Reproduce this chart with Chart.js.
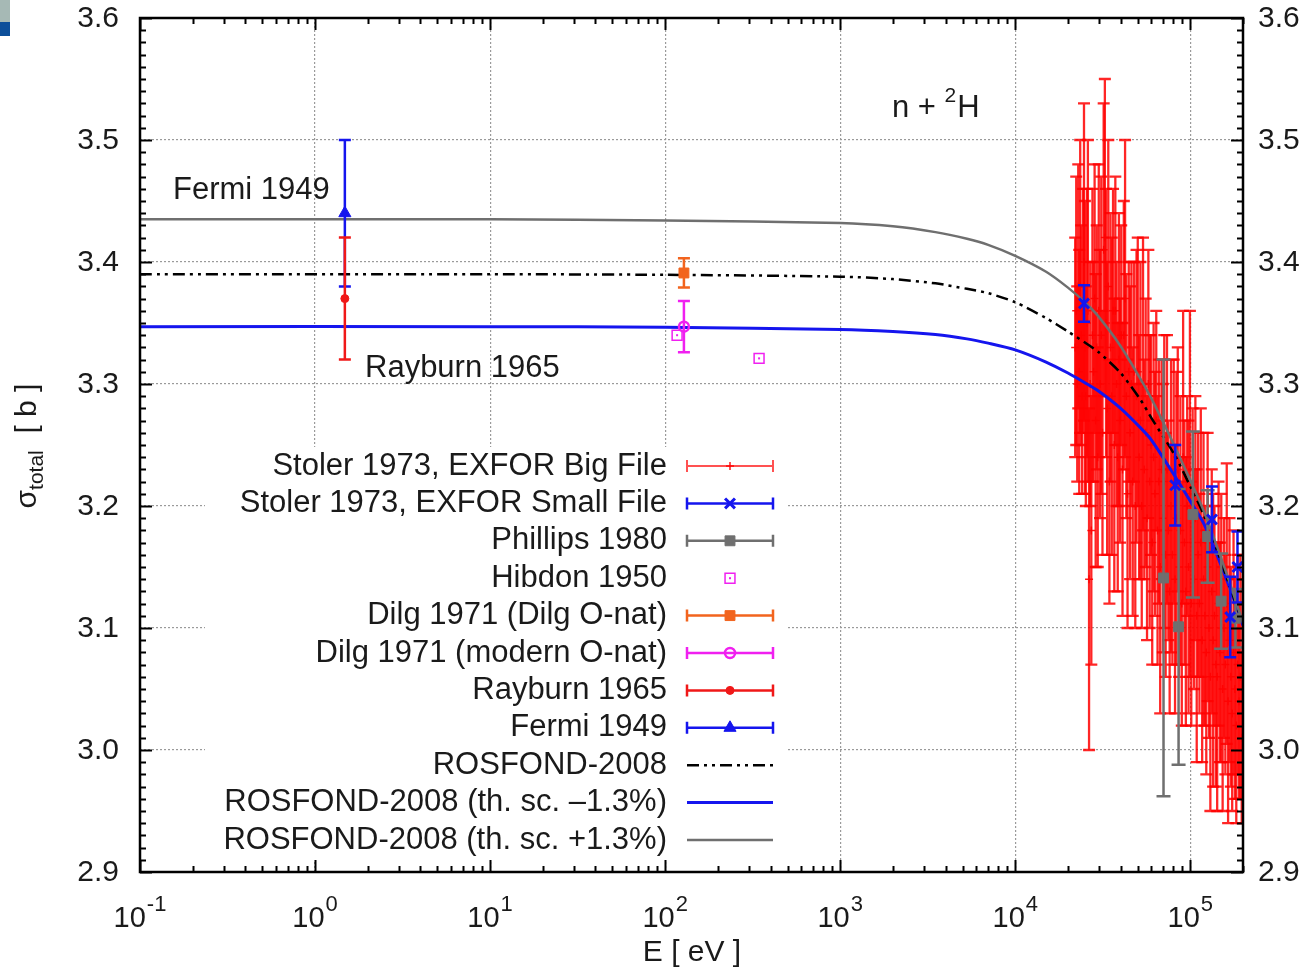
<!DOCTYPE html>
<html>
<head>
<meta charset="utf-8">
<title>n + 2H total cross section</title>
<script src="https://cdn.jsdelivr.net/npm/chart.js@4/dist/chart.umd.min.js"></script>
<style>
  html, body { margin: 0; padding: 0; background: #fff; }
  #wrap { position: relative; width: 1309px; height: 969px; }
  #corner1 { position: absolute; left: 0; top: 0; width: 10px; height: 22px; background: #a6b9b5; }
  #corner2 { position: absolute; left: 0; top: 22px; width: 10px; height: 14px; background: #0d4f9a; }
</style>
</head>
<body>
<div id="wrap">
  <canvas id="chart" width="1309" height="969"></canvas>
  <div id="corner1"></div>
  <div id="corner2"></div>
</div>
<script>
// ---- axis ticks ----
const xTicks = [0.1, 1, 10, 100, 1000, 10000, 100000];
const xTickExp = ['-1', '0', '1', '2', '3', '4', '5'];
const yTicks = [2.9, 3.0, 3.1, 3.2, 3.3, 3.4, 3.5, 3.6];
const yTickLabels = ['2.9', '3.0', '3.1', '3.2', '3.3', '3.4', '3.5', '3.6'];

// ---- evaluated curves (E in eV, sigma in b) ----
const curveE      = [0.1, 10, 100, 1000, 2000, 3500, 5300, 7000, 10000, 15000, 20000, 25000, 30000, 40000, 52000, 60000, 82000, 100000, 120000, 160000, 200000];
const rosfond     = [3.390, 3.390, 3.3895, 3.388, 3.386, 3.3825, 3.378, 3.3745, 3.367, 3.354, 3.343, 3.334, 3.326, 3.309, 3.287, 3.272, 3.241, 3.216, 3.192, 3.143, 3.103];
const rosfondLow  = [3.347, 3.347, 3.3465, 3.3447, 3.343, 3.3405, 3.337, 3.3335, 3.328, 3.318, 3.309, 3.301, 3.294, 3.280, 3.264, 3.254, 3.224, 3.204, 3.185, 3.141, 3.102];
const rosfondHigh = [3.435, 3.435, 3.434, 3.432, 3.4293, 3.4245, 3.419, 3.414, 3.405, 3.392, 3.379, 3.367, 3.355, 3.331, 3.304, 3.288, 3.248, 3.221, 3.195, 3.146, 3.104];

// ---- Stoler 1973, EXFOR big file ----
const stolerBigE = [
  22000, 22300, 22600, 22900, 23200, 23500, 23800, 24100, 24400, 24700, 25000, 25300, 25700, 26000, 26400, 26800, 27200, 27600, 28000, 28400, 28800, 29200, 29600, 30000,
  30500, 31000, 31500, 32000, 32500, 33000, 33500, 34000, 34500, 35000, 35600, 36200, 36800, 37300, 37900, 38500, 39100, 39700, 40300, 41000, 41700, 42400, 43100, 43800, 44500,
  45300, 46100, 46900, 47700, 48500, 49300, 50100, 51000, 51900, 52800, 53700, 54600, 55600, 56600, 57600, 58600, 59600, 60600, 61700, 62800, 63900, 65000, 66100, 67300, 68500, 69700,
  71000, 72300, 73600, 74900, 76200, 77600, 79000, 80400, 81800, 83300, 84800, 86300, 87800, 89400, 91000, 92600, 94300, 96000, 97700, 99500, 101300, 103100, 105000, 106900, 108800,
  110800, 112800, 114800, 116900, 119000, 121200, 123400, 125600, 127900, 130200, 132600, 135000, 137400, 139900, 142400, 145000, 147600, 150300, 153000, 155800,
  158600, 161500, 164400, 167400, 170400, 173500, 176600, 179800, 183100, 186400, 189800, 193200, 196700, 199000
];
const stolerBigS = [
  3.33, 3.36, 3.30, 3.38, 3.31, 3.38, 3.34, 3.29, 3.36, 3.40, 3.33, 3.29, 3.35, 3.36, 3.14, 3.30, 3.18, 3.34, 3.31, 3.37, 3.27, 3.33, 3.24, 3.36,
  3.30, 3.34, 3.26, 3.41, 3.42, 3.35, 3.28, 3.38, 3.22, 3.33, 3.29, 3.36, 3.25, 3.36, 3.30, 3.24, 3.32, 3.27, 3.34, 3.23, 3.34, 3.37, 3.29, 3.21, 3.31,
  3.26, 3.30, 3.22, 3.31, 3.20, 3.29, 3.31, 3.24, 3.27, 3.20, 3.30, 3.23, 3.26, 3.19, 3.30, 3.22, 3.25, 3.17, 3.24, 3.21, 3.27, 3.18, 3.22, 3.15, 3.23, 3.19,
  3.22, 3.16, 3.23, 3.18, 3.13, 3.20, 3.16, 3.22, 3.14, 3.19, 3.23, 3.15, 3.18, 3.12, 3.24, 3.17, 3.13, 3.20, 3.15, 3.21, 3.12, 3.17, 3.14, 3.19, 3.11,
  3.16, 3.12, 3.17, 3.09, 3.14, 3.11, 3.08, 3.15, 3.10, 3.06, 3.13, 3.09, 3.11, 3.07, 3.06, 3.12, 3.08, 3.10, 3.05, 3.10,
  3.07, 3.12, 3.04, 3.09, 3.06, 3.03, 3.08, 3.05, 3.02, 3.07, 3.04, 3.06, 3.01, 3.05
];
const stolerBigErr = [
  0.09, 0.11, 0.08, 0.10, 0.10, 0.12, 0.09, 0.08, 0.10, 0.13, 0.12, 0.09, 0.11, 0.14, 0.14, 0.10, 0.11, 0.12, 0.09, 0.11, 0.12, 0.10, 0.09, 0.12,
  0.11, 0.13, 0.10, 0.12, 0.13, 0.11, 0.12, 0.12, 0.10, 0.11, 0.13, 0.10, 0.12, 0.11, 0.10, 0.11, 0.12, 0.10, 0.09, 0.12, 0.11, 0.13, 0.10, 0.11, 0.09,
  0.12, 0.10, 0.11, 0.09, 0.10, 0.12, 0.11, 0.10, 0.13, 0.10, 0.12, 0.09, 0.11, 0.10, 0.11, 0.12, 0.09, 0.10, 0.11, 0.10, 0.09, 0.11, 0.10, 0.12, 0.09, 0.11,
  0.12, 0.10, 0.11, 0.09, 0.10, 0.12, 0.09, 0.10, 0.11, 0.12, 0.10, 0.09, 0.11, 0.10, 0.12, 0.10, 0.11, 0.09, 0.12, 0.15, 0.10, 0.11, 0.09, 0.10, 0.12,
  0.10, 0.09, 0.11, 0.10, 0.12, 0.09, 0.10, 0.11, 0.09, 0.11, 0.10, 0.12, 0.09, 0.10, 0.11, 0.10, 0.09, 0.11, 0.10, 0.09,
  0.09, 0.115, 0.10, 0.10, 0.09, 0.08, 0.10, 0.09, 0.08, 0.09, 0.08, 0.10, 0.07, 0.09
];

// ---- Stoler 1973, EXFOR small file ----
const stolerSmallE = [24700, 82000, 133000, 169000, 186000];
const stolerSmallS = [3.366, 3.217, 3.189, 3.109, 3.150];
const stolerSmallErr = [0.015, 0.033, 0.027, 0.033, 0.029];

// ---- Phillips 1980 ----
const phillipsE = [70300, 85700, 103500, 125600, 150000, 181000];
const phillipsS = [3.141, 3.101, 3.193, 3.175, 3.122, 3.108];
const phillipsErr = [0.179, 0.113, 0.068, 0.038, 0.039, 0.024];

// ---- Hibdon 1950 ----
const hibdonE = [117, 344];
const hibdonS = [3.340, 3.321];

// ---- Dilg 1971 ----
const dilgOE = [128], dilgOS = [3.391], dilgOErr = [0.012];
const dilgModE = [128], dilgModS = [3.347], dilgModErr = [0.021];

// ---- Rayburn 1965, Fermi 1949 ----
const rayburnE = [1.48], rayburnS = [3.37], rayburnErr = [0.05];
const fermiE = [1.48], fermiS = [3.44], fermiErr = [0.06];

const FONT = '"Liberation Sans", Arial, Helvetica, sans-serif';
const font = px => px + 'px ' + FONT;
const pts = (xs, ys) => xs.map((x, i) => ({ x: x, y: ys[i] }));

// error bars, drawn right after each dataset so the layering follows the dataset order
const errorBars = {
  id: 'errorBars',
  afterDatasetDraw(chart, args) {
    const ds = chart.data.datasets[args.index];
    const { ctx, chartArea: a, scales: { x, y } } = chart;
    ctx.save();
    ctx.beginPath();
    ctx.rect(a.left, a.top, a.right - a.left, a.bottom - a.top);
    ctx.clip();
    if (ds.errors) {
      ctx.strokeStyle = ds.errColor;
      ctx.lineWidth = ds.errWidth;
      const cap = ds.capHalf;
      ds.data.forEach((p, i) => {
        const px = x.getPixelForValue(p.x);
        const top = y.getPixelForValue(p.y + ds.errors[i]);
        const bot = y.getPixelForValue(p.y - ds.errors[i]);
        ctx.beginPath();
        ctx.moveTo(px, top); ctx.lineTo(px, bot);
        ctx.moveTo(px - cap, top); ctx.lineTo(px + cap, top);
        ctx.moveTo(px - cap, bot); ctx.lineTo(px + cap, bot);
        ctx.stroke();
      });
    }
    if (ds.centerDot) {
      ctx.fillStyle = ds.pointBorderColor;
      ds.data.forEach(p => {
        ctx.fillRect(x.getPixelForValue(p.x) - 1, y.getPixelForValue(p.y) - 1, 2, 2);
      });
    }
    ctx.restore();
  }
};

function drawMarker(ctx, ds, px, py) {
  if (!ds.pointRadius) return;
  ctx.save();
  ctx.fillStyle = ds.pointBackgroundColor;
  ctx.strokeStyle = ds.pointBorderColor;
  ctx.lineWidth = ds.pointBorderWidth;
  Chart.helpers.drawPoint(ctx, {
    pointStyle: ds.pointStyle, radius: ds.pointRadius, borderWidth: ds.pointBorderWidth, rotation: 0
  }, px, py);
  if (ds.centerDot) {
    ctx.fillStyle = ds.pointBorderColor;
    ctx.fillRect(px - 1, py - 1, 2, 2);
  }
  ctx.restore();
}

const decor = {
  id: 'decor',
  beforeDatasetsDraw(chart) {
    // opaque key background
    const ctx = chart.ctx;
    ctx.save();
    ctx.fillStyle = '#fff';
    ctx.fillRect(205, 447, 583, 413);
    ctx.restore();
  },
  afterDraw(chart) {
    const { ctx, chartArea: a, scales: { x, y } } = chart;
    ctx.save();

    // frame
    ctx.strokeStyle = '#000';
    ctx.lineWidth = 2.5;
    ctx.strokeRect(a.left, a.top, a.right - a.left, a.bottom - a.top);

    // tick marks on all four sides
    ctx.lineWidth = 2;
    ctx.beginPath();
    for (let k = 0; k <= 70; k++) {
      const py = Math.round(y.getPixelForValue(2.9 + k * 0.01)) + 0.5;
      const len = k % 10 === 0 ? 12 : 6;
      ctx.moveTo(a.left, py); ctx.lineTo(a.left + len, py);
      ctx.moveTo(a.right, py); ctx.lineTo(a.right - len, py);
    }
    xTicks.forEach(d => {
      for (let m = 1; m <= 9; m++) {
        const v = d * m;
        if (v > x.max * 1.0001) break;
        const px = Math.round(x.getPixelForValue(v)) + 0.5;
        const len = m === 1 ? 12 : 6;
        ctx.moveTo(px, a.bottom); ctx.lineTo(px, a.bottom - len);
        ctx.moveTo(px, a.top); ctx.lineTo(px, a.top + len);
      }
    });
    ctx.stroke();

    // y tick labels, both sides
    ctx.fillStyle = '#1a1a1a';
    ctx.font = font(30);
    ctx.textBaseline = 'middle';
    yTicks.forEach((v, i) => {
      const py = y.getPixelForValue(v) + 1;
      ctx.textAlign = 'right';
      ctx.fillText(yTickLabels[i], a.left - 21, py);
      ctx.textAlign = 'left';
      ctx.fillText(yTickLabels[i], a.right + 15, py);
    });

    // x tick labels 10^n
    ctx.textBaseline = 'alphabetic';
    ctx.textAlign = 'left';
    xTicks.forEach((v, i) => {
      const px = x.getPixelForValue(v);
      ctx.font = font(29);
      const wBase = ctx.measureText('10').width;
      ctx.font = font(22);
      const wExp = ctx.measureText(xTickExp[i]).width;
      const x0 = px - (wBase + wExp + 1) / 2;
      ctx.font = font(29);
      ctx.fillText('10', x0, 927);
      ctx.font = font(22);
      ctx.fillText(xTickExp[i], x0 + wBase + 1, 911);
    });

    // axis titles
    ctx.font = font(30);
    ctx.textAlign = 'center';
    ctx.fillText('E [ eV ]', 692, 961);

    ctx.save();
    ctx.translate(36, 446);
    ctx.rotate(-Math.PI / 2);
    ctx.textAlign = 'left';
    ctx.font = font(30);
    const wSig = ctx.measureText('σ').width;
    ctx.font = font(21);
    const wSub = ctx.measureText('total').width;
    ctx.font = font(30);
    const wRest = ctx.measureText('  [ b ]').width;
    let tx = -(wSig + wSub + wRest) / 2;
    ctx.fillText('σ', tx, 0); tx += wSig;
    ctx.font = font(21);
    ctx.fillText('total', tx, 7); tx += wSub;
    ctx.font = font(30);
    ctx.fillText('  [ b ]', tx, 0);
    ctx.restore();

    // annotations
    ctx.textAlign = 'left';
    ctx.textBaseline = 'middle';
    ctx.font = font(31);
    ctx.fillText('Fermi 1949', 173, 190);
    ctx.fillText('Rayburn 1965', 365, 368);
    ctx.fillText('n + ', 892, 108);
    let nx = 892 + ctx.measureText('n + ').width;
    ctx.font = font(21);
    ctx.fillText('2', nx, 96);
    nx += ctx.measureText('2').width + 1;
    ctx.font = font(31);
    ctx.fillText('H', nx, 108);

    // key
    const x0 = 687, x1 = 773, xm = 730;
    chart.data.datasets.forEach((ds, i) => {
      const ry = 466 + i * 37.4;
      ctx.fillStyle = '#1a1a1a';
      ctx.font = font(31);
      ctx.textAlign = 'right';
      ctx.fillText(ds.label, 667, ry);
      ctx.save();
      if (ds.showLine) {
        ctx.strokeStyle = ds.borderColor;
        ctx.lineWidth = ds.borderWidth;
        ctx.setLineDash(ds.borderDash || []);
        ctx.beginPath(); ctx.moveTo(x0, ry); ctx.lineTo(x1, ry); ctx.stroke();
      } else if (ds.errors) {
        ctx.strokeStyle = ds.legendColor || ds.errColor;
        ctx.lineWidth = ds.legendWidth || Math.max(ds.errWidth, 2.5);
        ctx.beginPath();
        ctx.moveTo(x0, ry); ctx.lineTo(x1, ry);
        ctx.moveTo(x0, ry - 6); ctx.lineTo(x0, ry + 6);
        ctx.moveTo(x1, ry - 6); ctx.lineTo(x1, ry + 6);
        ctx.stroke();
      }
      ctx.restore();
      if (!ds.showLine) drawMarker(ctx, ds, xm, ry);
    });

    ctx.restore();
  }
};

const datasets = [
  {
    label: 'Stoler 1973, EXFOR Big File', data: pts(stolerBigE, stolerBigS), errors: stolerBigErr,
    errColor: 'rgba(255,0,0,0.85)', legendColor: 'rgba(255,50,50,0.85)', legendWidth: 2, errWidth: 2.3, capHalf: 6,
    pointStyle: 'cross', pointRadius: 4, pointBorderWidth: 1.5,
    pointBorderColor: 'rgba(255,0,0,0.9)', pointBackgroundColor: 'rgba(255,0,0,0.9)', showLine: false, order: 20
  },
  {
    label: 'Stoler 1973, EXFOR Small File', data: pts(stolerSmallE, stolerSmallS), errors: stolerSmallErr,
    errColor: '#1515ee', errWidth: 2.5, capHalf: 6,
    pointStyle: 'crossRot', pointRadius: 7, pointBorderWidth: 3,
    pointBorderColor: '#1515ee', pointBackgroundColor: '#1515ee', showLine: false, order: 2
  },
  {
    label: 'Phillips 1980', data: pts(phillipsE, phillipsS), errors: phillipsErr,
    errColor: '#6f6f6f', errWidth: 2.5, capHalf: 7,
    pointStyle: 'rect', pointRadius: 7, pointBorderWidth: 1,
    pointBorderColor: '#6f6f6f', pointBackgroundColor: '#6f6f6f', showLine: false, order: 3
  },
  {
    label: 'Hibdon 1950', data: pts(hibdonE, hibdonS), centerDot: true,
    pointStyle: 'rect', pointRadius: 7, pointBorderWidth: 1.5,
    pointBorderColor: '#f020f0', pointBackgroundColor: 'rgba(0,0,0,0)', showLine: false, order: 1
  },
  {
    label: 'Dilg 1971 (Dilg O-nat)', data: pts(dilgOE, dilgOS), errors: dilgOErr,
    errColor: '#f2641e', errWidth: 2.5, capHalf: 6,
    pointStyle: 'rect', pointRadius: 7, pointBorderWidth: 1,
    pointBorderColor: '#f2641e', pointBackgroundColor: '#f2641e', showLine: false, order: 1
  },
  {
    label: 'Dilg 1971 (modern O-nat)', data: pts(dilgModE, dilgModS), errors: dilgModErr,
    errColor: '#f020f0', errWidth: 2.5, capHalf: 6,
    pointStyle: 'circle', pointRadius: 5, pointBorderWidth: 2.5,
    pointBorderColor: '#f020f0', pointBackgroundColor: 'rgba(0,0,0,0)', showLine: false, order: 1
  },
  {
    label: 'Rayburn 1965', data: pts(rayburnE, rayburnS), errors: rayburnErr,
    errColor: '#f01818', errWidth: 2.5, capHalf: 6,
    pointStyle: 'circle', pointRadius: 4, pointBorderWidth: 1,
    pointBorderColor: '#f01818', pointBackgroundColor: '#f01818', showLine: false, order: 1
  },
  {
    label: 'Fermi 1949', data: pts(fermiE, fermiS), errors: fermiErr,
    errColor: '#1515ee', errWidth: 2.5, capHalf: 6,
    pointStyle: 'triangle', pointRadius: 7, pointBorderWidth: 1,
    pointBorderColor: '#1515ee', pointBackgroundColor: '#1515ee', showLine: false, order: 1
  },
  {
    label: 'ROSFOND-2008', data: pts(curveE, rosfond), showLine: true,
    borderColor: '#000', borderWidth: 2.5, borderDash: [12, 5, 3, 5, 3, 5],
    pointRadius: 0, tension: 0.25, order: 6
  },
  {
    label: 'ROSFOND-2008 (th. sc. \u20131.3%)', data: pts(curveE, rosfondLow), showLine: true,
    borderColor: '#1515ee', borderWidth: 3,
    pointRadius: 0, tension: 0.25, order: 7
  },
  {
    label: 'ROSFOND-2008 (th. sc. +1.3%)', data: pts(curveE, rosfondHigh), showLine: true,
    borderColor: '#6f6f6f', borderWidth: 2.5,
    pointRadius: 0, tension: 0.25, order: 5
  }
];

new Chart(document.getElementById('chart'), {
  type: 'scatter',
  data: { datasets: datasets },
  options: {
    responsive: false,
    animation: false,
    devicePixelRatio: 1,
    events: [],
    layout: { padding: { left: 140, top: 18, right: 66, bottom: 97 } },
    plugins: { legend: { display: false }, tooltip: { enabled: false } },
    scales: {
      x: {
        type: 'logarithmic', min: 0.1, max: 200000,
        afterBuildTicks: axis => { axis.ticks = xTicks.map(v => ({ value: v })); },
        ticks: { display: false },
        grid: { color: '#9a9a9a', lineWidth: 1.2, drawTicks: false },
        border: { display: false, dash: [2, 2] }
      },
      y: {
        type: 'linear', min: 2.9, max: 3.6,
        afterBuildTicks: axis => { axis.ticks = yTicks.map(v => ({ value: v })); },
        ticks: { display: false },
        grid: { color: '#9a9a9a', lineWidth: 1.2, drawTicks: false },
        border: { display: false, dash: [2, 2] }
      }
    }
  },
  plugins: [errorBars, decor]
});
</script>
</body>
</html>
